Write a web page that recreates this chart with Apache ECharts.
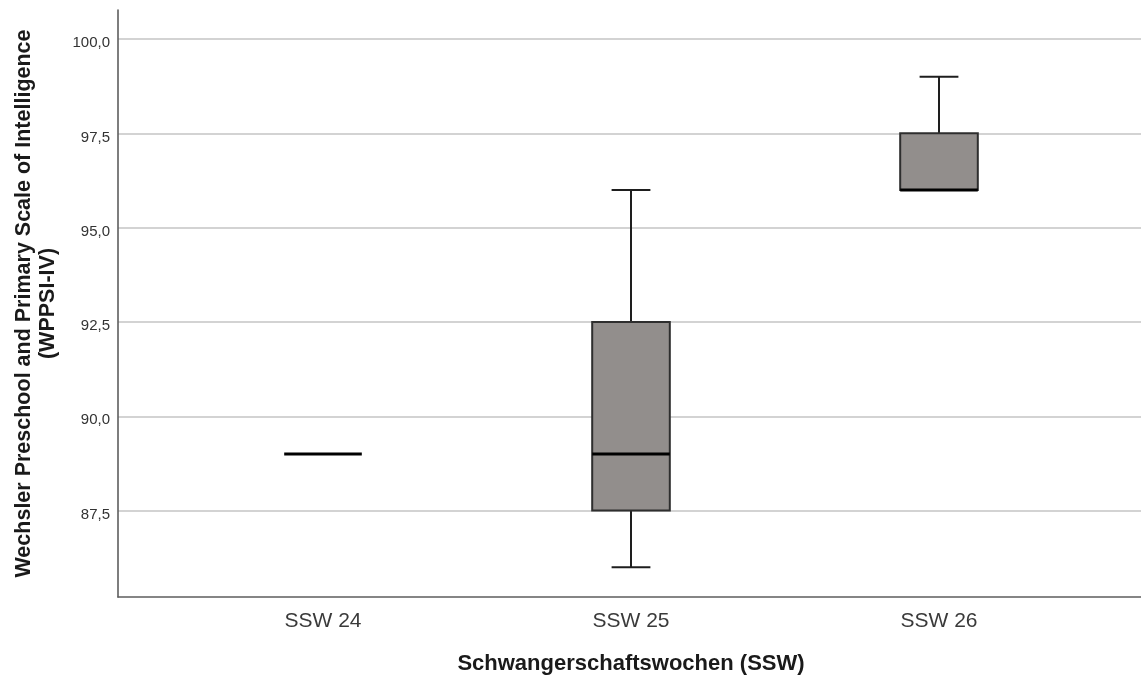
<!DOCTYPE html>
<html><head><meta charset="utf-8">
<script src="https://cdn.jsdelivr.net/npm/echarts@6/dist/echarts.min.js"></script>
<style>html,body{margin:0;padding:0;background:#fff}#c{width:1141px;height:676px}</style>
</head><body><div id="c"></div>
<script>
const categories = ['SSW 24', 'SSW 25', 'SSW 26'];
const mins = [89, 86, 96];
const q1s = [89, 87.5, 96];
const medians = [89, 89, 96];
const q3s = [89, 92.5, 97.5];
const maxs = [89, 96, 99];
const yTicks = [87.5, 90, 92.5, 95, 97.5, 100];
const yMin = 85.21, yMax = 100.77;
const xTitle = 'Schwangerschaftswochen (SSW)';
const yTitle = 'Wechsler Preschool and Primary Scale of Intelligence\n(WPPSI-IV)';

const boxData = categories.map((c, i) => [i, mins[i], q1s[i], medians[i], q3s[i], maxs[i]]);
const FONT = 'Liberation Sans, Arial, sans-serif';

function renderItem(params, api) {
  const x = api.value(0);
  const band = api.size([1, 0])[0];
  const bw = band * 0.252;
  const cw = bw / 2;
  const vMin = api.value(1), vQ1 = api.value(2), vMed = api.value(3), vQ3 = api.value(4), vMax = api.value(5);
  const c = Math.round(api.coord([x, vMed])[0]);
  const y = v => api.coord([x, v])[1];
  const children = [];
  const lineStyle = { stroke: '#1e1e1e', lineWidth: 2 };
  if (vMax > vQ3) {
    children.push({ type: 'line', shape: { x1: c, y1: y(vQ3), x2: c, y2: y(vMax) }, style: lineStyle });
    children.push({ type: 'line', shape: { x1: c - cw / 2, y1: y(vMax), x2: c + cw / 2, y2: y(vMax) }, style: lineStyle });
  }
  if (vMin < vQ1) {
    children.push({ type: 'line', shape: { x1: c, y1: y(vQ1), x2: c, y2: y(vMin) }, style: lineStyle });
    children.push({ type: 'line', shape: { x1: c - cw / 2, y1: y(vMin), x2: c + cw / 2, y2: y(vMin) }, style: lineStyle });
  }
  if (vQ3 > vQ1) {
    children.push({ type: 'rect', shape: { x: c - bw / 2, y: y(vQ3), width: bw, height: y(vQ1) - y(vQ3) },
      style: { fill: '#928e8c', stroke: '#2e2e2e', lineWidth: 2 } });
  }
  children.push({ type: 'line', shape: { x1: c - bw / 2, y1: y(vMed), x2: c + bw / 2, y2: y(vMed) },
    style: { stroke: '#000000', lineWidth: 3 } });
  return { type: 'group', children: children };
}

const chart = echarts.init(document.getElementById('c'), null, { renderer: 'canvas' });
chart.setOption({
  animation: false,
  backgroundColor: '#ffffff',
  grid: [
    { left: 118, right: 0, top: 10, bottom: 79, outerBoundsMode: 'none', containLabel: false },
    { left: 169, right: 48, top: 10, bottom: 79, outerBoundsMode: 'none', containLabel: false }
  ],
  xAxis: [
    { gridIndex: 0, type: 'value', min: 0, max: 1,
      axisLine: { show: true, onZero: false, lineStyle: { color: '#5e5e5e', width: 1.6 } },
      axisTick: { show: false }, axisLabel: { show: false }, splitLine: { show: false } },
    { gridIndex: 1, type: 'category', data: categories,
      axisLine: { show: false }, axisTick: { show: false }, splitLine: { show: false },
      axisLabel: { color: '#3a3a3a', fontSize: 21, fontFamily: FONT, margin: 14 },
      name: xTitle, nameLocation: 'middle', nameGap: 56,
      nameTextStyle: { color: '#1a1a1a', fontSize: 22, fontWeight: 'bold', fontFamily: FONT } }
  ],
  yAxis: [
    { gridIndex: 0, type: 'value', min: yMin, max: yMax,
      axisLine: { show: true, lineStyle: { color: '#5e5e5e', width: 1.6 } },
      axisTick: { show: true, customValues: yTicks, length: 0 },
      axisLabel: { customValues: yTicks, margin: 8,
        formatter: v => '{v|' + v.toFixed(1).replace('.', ',') + '}',
        rich: { v: { color: '#333333', fontSize: 15, fontFamily: FONT, padding: [8, 0, 0, 0] } } },
      splitLine: { show: true, lineStyle: { color: '#c4c4c4', width: 1.5 } },
      name: yTitle, nameLocation: 'middle', nameGap: 58,
      nameTextStyle: { color: '#1a1a1a', fontSize: 21.5, fontWeight: 'bold', fontFamily: FONT, lineHeight: 24 } },
    { gridIndex: 1, type: 'value', min: yMin, max: yMax, show: false, splitLine: { show: false } }
  ],
  series: [{
    type: 'custom', xAxisIndex: 1, yAxisIndex: 1,
    renderItem: renderItem,
    encode: { x: 0, y: [1, 2, 3, 4, 5] },
    data: boxData
  }]
});
</script></body></html>
